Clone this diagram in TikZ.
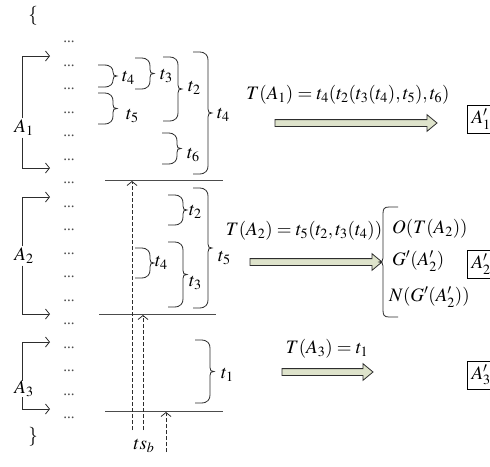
\documentclass[tikz,border=0pt]{standalone}
\usepackage{mathptmx}
\usepackage{fontspec}
\setmainfont{Liberation Serif}
\usetikzlibrary{arrows.meta}
\definecolor{lc}{RGB}{45,45,45}
\definecolor{afill}{RGB}{222,227,203}
\tikzset{
  conn/.style={draw=lc, line width=0.8pt},
  barb/.style={-{Straight Barb[length=4pt,width=10pt,line width=0.8pt]}},
  dsh/.style={conn, dash pattern=on 4pt off 2pt},
  hline/.style={draw=lc!85, line width=0.8pt},
  brc/.style={draw=lc, line width=0.8pt},
  lab/.style={inner sep=0pt, font=\fontsize{19}{22}\selectfont},
  frm/.style={inner sep=0pt, font=\fontsize{19}{22}\selectfont},
  dotn/.style={inner sep=0pt, font=\fontsize{15}{17}\selectfont, text=lc!85},
  blk/.style={draw=lc, line width=0.8pt, fill=afill},
  abox/.style={draw=black, line width=1pt, minimum height=28pt, minimum width=36pt, inner sep=0pt, font=\fontsize{19}{22}\selectfont, anchor=west, text width=32pt, align=left}
}
% right-pointing brace: #1 left x, #2 top y, #3 bottom y, #4 name of tip
\newcommand{\rbr}[4]{%
  \pgfmathsetmacro\brym{(#2+#3)/2}%
  \pgfmathsetmacro\brr{min(8,(#3-#2)/2-4)}%
  \draw[brc] (#1,#2) -- ({#1+6},#2) .. controls ({#1+13},#2) and ({#1+15},{#2+\brr/2}) .. ({#1+15},{#2+\brr})
    -- ({#1+15},{\brym-4}) .. controls ({#1+15},{\brym-1}) and ({#1+16},\brym) .. ({#1+19},\brym) coordinate (#4)
    .. controls ({#1+16},\brym) and ({#1+15},{\brym+1}) .. ({#1+15},{\brym+4}) -- ({#1+15},{#3-\brr})
    .. controls ({#1+15},{#3-\brr/2}) and ({#1+13},#3) .. ({#1+6},#3) -- (#1,#3);}
% left-pointing brace: #1 right x
\newcommand{\lbr}[4]{%
  \pgfmathsetmacro\brym{(#2+#3)/2}%
  \draw[brc] (#1,#2) -- ({#1-9},#2) .. controls ({#1-14},#2) and ({#1-15},{#2+2}) .. ({#1-15},{#2+7})
    -- ({#1-15},{\brym-4}) .. controls ({#1-15},{\brym-1}) and ({#1-16},\brym) .. ({#1-19},\brym) coordinate (#4)
    .. controls ({#1-16},\brym) and ({#1-15},{\brym+1}) .. ({#1-15},{\brym+4}) -- ({#1-15},{#3-7})
    .. controls ({#1-15},{#3-2}) and ({#1-14},#3) .. ({#1-9},#3) -- (#1,#3);}
\newcommand{\barrow}[3]{%
  \draw[blk] (#1,{#3-3.4}) -- ({#2-10},{#3-3.4}) -- ({#2-10},{#3-8.3}) -- (#2,#3)
    -- ({#2-10},{#3+8.3}) -- ({#2-10},{#3+3.4}) -- (#1,{#3+3.4}) -- cycle;}
\begin{document}
\begin{tikzpicture}[x=1pt,y=-1pt]
\useasboundingbox (0,0) rectangle (490,466);
\clip (0,0) rectangle (490,466);
\fill[white] (0,0) rectangle (490,466);
% outer braces
\node[lab] (ob) at (33,16) {$\{$};
\node[lab] (cb) at (33,437) {$\}$};
% dots
\foreach \k in {0,...,16} \node[dotn] (d\k) at (69,{42+23.5*\k}) {...};
% left brackets
\coordinate (a1t) at (50,56); \coordinate (a1b) at (50,168);
\coordinate (a2t) at (50,197); \coordinate (a2b) at (50,314);
\coordinate (a3t) at (50,342); \coordinate (a3b) at (50,409);
\node[lab, inner sep=1.5pt] (A1) at (24,128) {$A_1$};
\node[lab, inner sep=1.5pt] (A2) at (24,256) {$A_2$};
\node[lab, inner sep=0pt] (A3) at (24,389) {$A_3$};
\foreach \i in {1,2,3} {
  \draw[conn,barb] (A\i.north -| 22,0) |- (a\i t);
  \draw[conn,barb] (A\i.south -| 22,0) |- (a\i b);
}
% horizontal lines
\coordinate (h1a) at (105,180); \coordinate (h1b) at (223,180);
\coordinate (h2a) at (99,314);  \coordinate (h2b) at (216,314);
\coordinate (h3a) at (105,411); \coordinate (h3b) at (223,411);
\draw[hline] (h1a) -- (h1b);
\draw[hline] (h2a) -- (h2b);
\draw[hline] (h3a) -- (h3b);
% dashed arrows
\coordinate (v1s) at (132,430); \coordinate (v1e) at (132,181);
\coordinate (v2s) at (143,430); \coordinate (v2e) at (143,315);
\coordinate (v3s) at (166,452); \coordinate (v3e) at (166,412);
\draw[dsh,barb] (v1s) -- (v1e);
\draw[dsh,barb] (v2s) -- (v2e);
\draw[dsh,barb] (v3s) -- (v3e);
\node[lab] (tsb) at (144,446) {$ts_b$};
% braces block A1
\rbr{98}{65}{87}{p1}   \node[lab,anchor=west] (l1) at (122,78) {$t_4$};
\rbr{135}{58}{89}{p2}  \node[lab,anchor=west] (l2) at (160,76) {$t_3$};
\rbr{98}{93}{124}{p3}  \node[lab,anchor=west] (l3) at (126,116) {$t_5$};
\rbr{163}{57}{121}{p4} \node[lab,anchor=west] (l4) at (188,88) {$t_2$};
\rbr{162}{133}{164}{p5}\node[lab,anchor=west] (l5) at (187,155) {$t_6$};
\rbr{193}{52}{174}{p6} \node[lab,anchor=west] (l6) at (217,115) {$t_4$};
% braces block A2
\rbr{168}{195}{225}{q1} \node[lab,anchor=west] (m1) at (189,212) {$t_2$};
\rbr{135}{248}{278}{q2} \node[lab,anchor=west] (m2) at (155,263) {$t_4$};
\rbr{168}{242}{307}{q3} \node[lab,anchor=west] (m3) at (189,283) {$t_3$};
\rbr{193}{188}{308}{q4} \node[lab,anchor=west] (m4) at (218,258) {$t_5$};
% brace block A3
\rbr{195}{340}{403}{r1} \node[lab,anchor=west] (n1) at (221,375) {$t_1$};
% formulas and block arrows
\node[frm] (f1) at (348,95) {$T(A_1)=t_4(t_2(t_3(t_4),t_5),t_6)$};
\node[frm] (f2) at (304,231) {$T(A_2)=t_5(t_2,t_3(t_4))$};
\node[frm] (f3) at (327,349) {$T(A_3)=t_1$};
\barrow{275}{437}{123}
\barrow{250}{382}{262}
\barrow{282}{373}{372}
% right brace and outcomes
\lbr{398}{207}{317}{s1}
\node[lab,anchor=west] (o1) at (392,229) {$O(T(A_2))$};
\node[lab,anchor=west] (o2) at (392,261) {$G'(A'_2)$};
\node[lab,anchor=west] (o3) at (389,297) {$N(G'(A'_2))$};
% result boxes
\node[abox] (r1b) at (467,119) {\hspace*{2pt}$A'_1$};
\node[abox] (r2b) at (467,264) {\hspace*{2pt}$A'_2$};
\node[abox] (r3b) at (467,375) {\hspace*{2pt}$A'_3$};
\end{tikzpicture}
\end{document}
